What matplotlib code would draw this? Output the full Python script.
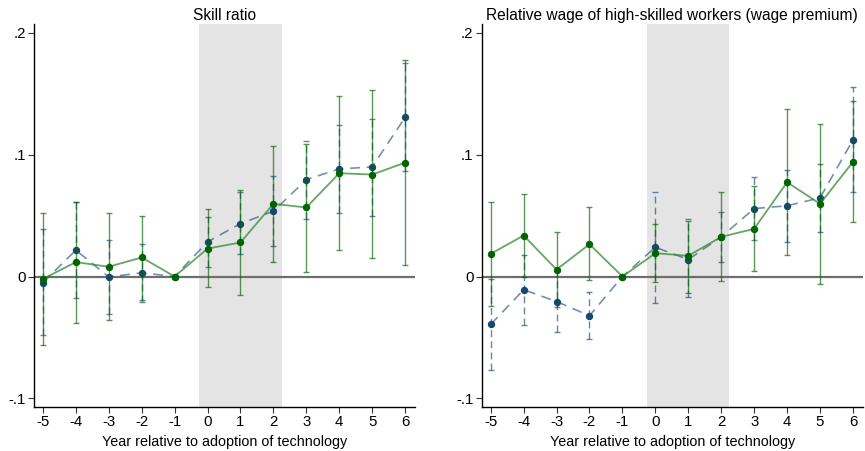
import numpy as np
import matplotlib
matplotlib.use('Agg')
import matplotlib.pyplot as plt

plt.rcParams['font.family'] = ['Liberation Sans', 'DejaVu Sans']

years = [-5, -4, -3, -2, -1, 0, 1, 2, 3, 4, 5, 6]

# Skill ratio
skill_blue = [-0.005, 0.0216, -0.0003, 0.003, 0.0, 0.0284, 0.0434, 0.0535, 0.0795, 0.0882, 0.0899, 0.1306]
skill_blue_lo = [-0.048, -0.018, -0.031, -0.021, 0.0, 0.0077, 0.0183, 0.0249, 0.0475, 0.052, 0.050, 0.0863]
skill_blue_hi = [0.039, 0.061, 0.030, 0.027, 0.0, 0.049, 0.0689, 0.0828, 0.111, 0.1246, 0.1295, 0.175]
skill_green = [-0.002, 0.0118, 0.008, 0.0156, 0.0, 0.0229, 0.0279, 0.0596, 0.0566, 0.0847, 0.0836, 0.0934]
skill_green_lo = [-0.056, -0.038, -0.036, -0.019, 0.0, -0.0087, -0.015, 0.012, 0.004, 0.0216, 0.0148, 0.0093]
skill_green_hi = [0.052, 0.0615, 0.052, 0.050, 0.0, 0.055, 0.071, 0.1068, 0.109, 0.148, 0.1527, 0.1776]

# Relative wage
wage_blue = [-0.0393, -0.0109, -0.0205, -0.0322, 0.0, 0.024, 0.0139, 0.0325, 0.0557, 0.058, 0.0645, 0.112]
wage_blue_lo = [-0.0768, -0.0396, -0.0454, -0.0516, 0.0, -0.0216, -0.0167, 0.0118, 0.0303, 0.0279, 0.0369, 0.0689]
wage_blue_hi = [-0.002, 0.018, 0.0045, -0.0128, 0.0, 0.0694, 0.0475, 0.0525, 0.0817, 0.0877, 0.0926, 0.155]
wage_green = [0.0186, 0.0336, 0.0057, 0.0265, 0.0, 0.0191, 0.017, 0.0325, 0.0391, 0.0773, 0.0596, 0.094]
wage_green_lo = [-0.024, -0.0008, -0.0248, -0.0027, 0.0, -0.0046, -0.0134, -0.0038, 0.0044, 0.0178, -0.0063, 0.0445]
wage_green_hi = [0.0612, 0.068, 0.0363, 0.0566, 0.0, 0.0429, 0.0454, 0.069, 0.074, 0.137, 0.1249, 0.1437]

titles = ['Skill ratio', 'Relative wage of high-skilled workers (wage premium)']

navy = '#1a476f'
green = '#006400'

fig = plt.figure(figsize=(8.65, 4.51), dpi=100)
ax1 = fig.add_axes([0.0393, 0.0976, 0.4405, 0.849])
ax2 = fig.add_axes([0.557, 0.0976, 0.4405, 0.849])

panels = [
    (ax1, skill_blue, skill_blue_lo, skill_blue_hi, skill_green, skill_green_lo, skill_green_hi),
    (ax2, wage_blue, wage_blue_lo, wage_blue_hi, wage_green, wage_green_lo, wage_green_hi),
]

for i, (ax, b, blo, bhi, g, glo, ghi) in enumerate(panels):
    x = np.array(years)
    b, blo, bhi = np.array(b), np.array(blo), np.array(bhi)
    g, glo, ghi = np.array(g), np.array(glo), np.array(ghi)

    ax.axvspan(-0.25, 2.25, color='#e4e4e4', lw=0, zorder=0)
    ax.axhline(0, color='#6e6e6e', lw=1.6, zorder=1)

    # blue series (dashed)
    eb = ax.errorbar(x, b, yerr=[b - blo, bhi - b], fmt='none', ecolor=navy,
                     elinewidth=1.0, capsize=2.5, capthick=1.0, alpha=0.65, zorder=2)
    eb[2][0].set_linestyle((0, (5, 3)))
    ax.plot(x, b, color=navy, lw=1.2, ls=(0, (6, 4)), alpha=0.6, zorder=3)
    ax.plot(x, b, 'o', color=navy, ms=4.3, zorder=4)

    # green series (solid)
    ax.errorbar(x, g, yerr=[g - glo, ghi - g], fmt='none', ecolor=green,
                elinewidth=1.0, capsize=2.5, capthick=1.0, alpha=0.65, zorder=5)
    ax.plot(x, g, color='#2e8b2e', lw=1.3, alpha=0.75, zorder=6)
    ax.plot(x, g, 'o', color=green, ms=4.3, zorder=7)

    ax.set_xlim(-5.27, 6.3)
    ax.set_ylim(-0.107, 0.207)
    ax.set_xticks(years)
    ax.set_xticklabels([str(v) for v in years], fontsize=10.8)
    ax.set_yticks([-0.1, 0, 0.1, 0.2])
    ax.set_yticklabels(['-.1', '0', '.1', '.2'], fontsize=10.8)
    ax.tick_params(direction='out', length=4, width=0.8, color='#333333', pad=2)
    ax.spines['top'].set_visible(False)
    ax.spines['right'].set_visible(False)
    ax.spines['left'].set_linewidth(1.0)
    ax.spines['bottom'].set_linewidth(1.0)
    ax.set_xlabel('Year relative to adoption of technology', fontsize=10.4, labelpad=4)
    ax.set_title(titles[i], fontsize=11.2, pad=3)

fig.savefig('out.png', dpi=100)
